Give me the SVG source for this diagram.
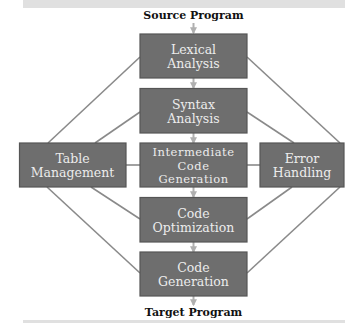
<svg xmlns="http://www.w3.org/2000/svg" width="345" height="323" viewBox="0 0 345 323">
<style>
.box{fill:#6e6e6e;stroke:#555;stroke-width:1.2}
.t{font-family:"DejaVu Serif","Liberation Serif",serif;font-size:12.5px;fill:#ececec;text-anchor:middle}
.s{font-size:11.5px;letter-spacing:0.5px}
.h{font-family:"DejaVu Serif","Liberation Serif",serif;font-size:11px;font-weight:bold;fill:#111;text-anchor:middle}
.ln{stroke:#8a8a8a;stroke-width:1.6;fill:none}
.ar{stroke:#b0b0b0;stroke-width:2;fill:none;marker-end:url(#ah)}
</style>
<defs>
<marker id="ah" viewBox="0 0 6 6" refX="5" refY="3" markerWidth="3.5" markerHeight="3.5" orient="auto" markerUnits="strokeWidth">
<path d="M0,0L6,3L0,6z" fill="#b0b0b0"/>
</marker>
</defs>
<rect x="23" y="0" width="322" height="8" fill="#e0e0e0"/>
<rect x="23" y="320" width="322" height="3" fill="#e0e0e0"/>
<g id="connectors">
<line class="ln" x1="140" y1="57" x2="48" y2="143"/>
<line class="ln" x1="140" y1="112" x2="95" y2="143"/>
<line class="ln" x1="247" y1="57" x2="340" y2="143"/>
<line class="ln" x1="247" y1="112" x2="294" y2="143"/>
<line class="ln" x1="47" y1="187" x2="140" y2="273"/>
<line class="ln" x1="91" y1="187" x2="140" y2="219"/>
<line class="ln" x1="340" y1="187" x2="247" y2="273"/>
<line class="ln" x1="292" y1="187" x2="247" y2="219"/>
<line class="ln" x1="126" y1="165" x2="140" y2="165"/>
<line class="ln" x1="247" y1="165" x2="260" y2="165"/>
<line class="ar" x1="193.5" y1="23" x2="193.5" y2="33"/>
<line class="ar" x1="193.5" y1="78" x2="193.5" y2="88"/>
<line class="ar" x1="193.5" y1="133" x2="193.5" y2="143"/>
<line class="ar" x1="193.5" y1="187" x2="193.5" y2="197"/>
<line class="ar" x1="193.5" y1="242" x2="193.5" y2="252"/>
<line class="ar" x1="193.5" y1="296" x2="193.5" y2="305"/>
</g>
<g id="source"><text class="h" x="193.5" y="19">Source Program</text></g>
<g id="target"><text class="h" x="193.5" y="316">Target Program</text></g>
<g id="lexical"><rect class="box" x="140" y="34" width="107" height="44"/><text class="t" x="193.5" y="54">Lexical</text><text class="t" x="193.5" y="68">Analysis</text></g>
<g id="syntax"><rect class="box" x="140" y="88.5" width="107" height="44.5"/><text class="t" x="193.5" y="108.5">Syntax</text><text class="t" x="193.5" y="122.5">Analysis</text></g>
<g id="intermediate"><rect class="box" x="140" y="143" width="107" height="44"/><text class="t s" x="193.5" y="156">Intermediate</text><text class="t s" x="193.5" y="169.5">Code</text><text class="t s" x="193.5" y="183">Generation</text></g>
<g id="optimization"><rect class="box" x="140" y="197.5" width="107" height="44.5"/><text class="t" x="193.5" y="217.5">Code</text><text class="t" x="193.5" y="231.5">Optimization</text></g>
<g id="codegen"><rect class="box" x="140" y="252" width="107" height="44"/><text class="t" x="193.5" y="272">Code</text><text class="t" x="193.5" y="286">Generation</text></g>
<g id="table"><rect class="box" x="19.5" y="143" width="106.5" height="44"/><text class="t" x="72.5" y="163">Table</text><text class="t" x="72.5" y="177">Management</text></g>
<g id="error"><rect class="box" x="260" y="143" width="84" height="44"/><text class="t" x="302" y="163">Error</text><text class="t" x="302" y="177">Handling</text></g>
</svg>
